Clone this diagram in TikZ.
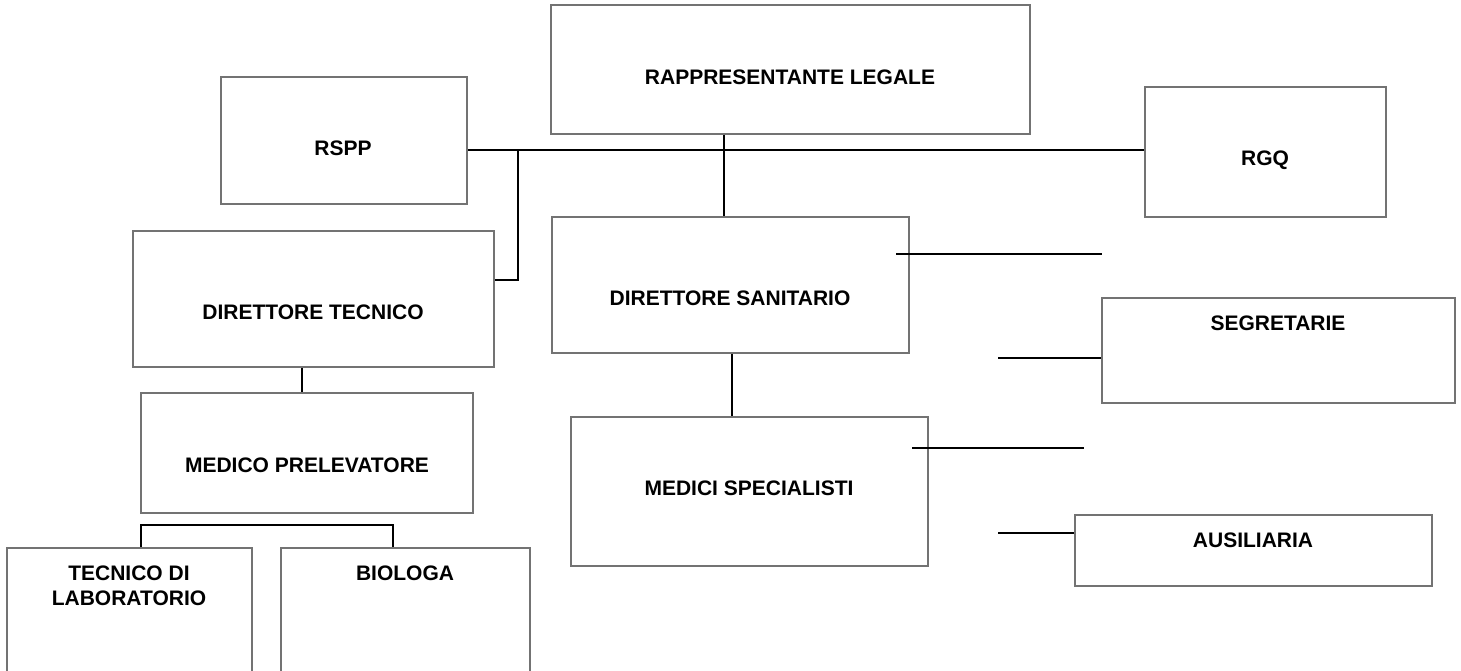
\documentclass[tikz,border=0pt]{standalone}
\usepackage{fontspec}
\setmainfont{Liberation Sans}
\begin{document}
\begin{tikzpicture}[x=1pt,y=-1pt,
  box/.style={draw=black!55, line width=1.6pt, inner sep=0pt, fill=none},
  lbl/.style={font=\fontsize{21}{25}\selectfont\bfseries, align=center, inner sep=0pt},
  conn/.style={draw=black, line width=2.2pt}]
\useasboundingbox (0,0) rectangle (1461,670);
\fill[white] (0,0) rectangle (1461,670);

% boxes
\node[box, minimum width=479pt, minimum height=129pt] (rl)   at (790.5,69.5) {};
\node[box, minimum width=246pt, minimum height=127pt] (rspp) at (344,140.5) {};
\node[box, minimum width=241pt, minimum height=130pt] (rgq)  at (1265.5,152) {};
\node[box, minimum width=361pt, minimum height=136pt] (dt)   at (313.5,299) {};
\node[box, minimum width=357pt, minimum height=136pt] (ds)   at (730.5,285) {};
\node[box, minimum width=353pt, minimum height=105pt] (seg)  at (1278.5,350.5) {};
\node[box, minimum width=332pt, minimum height=120pt] (mp)   at (307,453) {};
\node[box, minimum width=357pt, minimum height=149pt] (ms)   at (749.5,491.5) {};
\node[box, minimum width=357pt, minimum height=71pt]  (aus)  at (1253.5,550.5) {};
\node[box, minimum width=245pt, minimum height=132pt] (tl)   at (129.5,614) {};
\node[box, minimum width=249pt, minimum height=132pt] (bio)  at (405.5,614) {};

% labels
\node[lbl] (rlt)   at (790,77)  {RAPPRESENTANTE LEGALE};
\node[lbl] (rsppt) at (343,148) {RSPP};
\node[lbl] (rgqt)  at (1265,160) {RGQ};
\node[lbl] (dtt)   at (313,312) {DIRETTORE TECNICO};
\node[lbl] (dst)   at (730,298) {DIRETTORE SANITARIO};
\node[lbl] (segt)  at (1278,323) {SEGRETARIE};
\node[lbl] (mpt)   at (307,465) {MEDICO PRELEVATORE};
\node[lbl] (mst)   at (749,488) {MEDICI SPECIALISTI};
\node[lbl] (aust)  at (1253,540) {AUSILIARIA};
\node[lbl] (tlt)   at (129,585.5) {TECNICO DI\\LABORATORIO};
\node[lbl] (biot)  at (405,573) {BIOLOGA};

% helper coordinates
\coordinate (hl) at (0,150);
\coordinate (v1) at (724,0);
\coordinate (j1) at (518,150);
\coordinate (k)  at (518,280);
\coordinate (v2) at (302,0);
\coordinate (v3) at (732,0);
\coordinate (bl) at (141,525);
\coordinate (br) at (393,525);
\coordinate (a1) at (896,254);
\coordinate (a2) at (1102,254);
\coordinate (b1) at (998,358);
\coordinate (c1) at (912,448);
\coordinate (c2) at (1084,448);
\coordinate (d1) at (998,533);

% connectors
\draw[conn] (rspp.east |- hl) -- (rgq.west |- hl);
\draw[conn] (rl.south -| v1) -- (ds.north -| v1);
\draw[conn] (j1) -- (k) -- (k -| dt.east);
\draw[conn] (dt.south -| v2) -- (mp.north -| v2);
\draw[conn] (ds.south -| v3) -- (ms.north -| v3);
\draw[conn] (tl.north -| bl) -- (bl) -- (br) -- (bio.north -| br);
\draw[conn] (a1) -- (a2);
\draw[conn] (b1) -- (seg.west |- b1);
\draw[conn] (c1) -- (c2);
\draw[conn] (d1) -- (aus.west |- d1);
\end{tikzpicture}
\end{document}
